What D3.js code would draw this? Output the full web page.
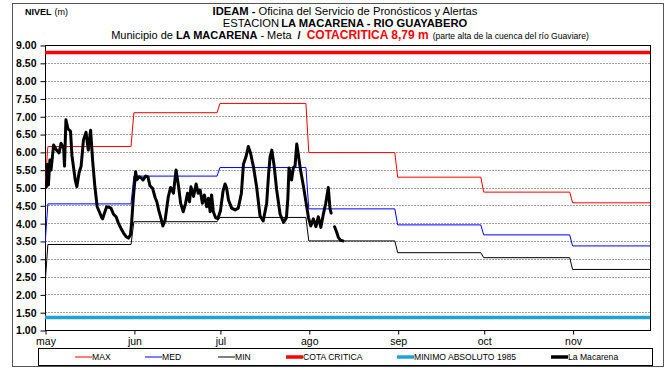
<!DOCTYPE html>
<html>
<head>
<meta charset="utf-8">
<script src="https://cdn.jsdelivr.net/npm/d3@7"></script>
<style>
  body { margin: 0; background: #fff; }
  svg { display: block; font-family: "Liberation Sans", Arial, sans-serif; }
</style>
</head>
<body>
<svg id="chart" width="667" height="370"></svg>
<script>
// Month tick labels along the time axis
const monthLabels = ["may", "jun", "jul", "ago", "sep", "oct", "nov"];

// Level axis ticks (m)
const yTicks = [1.0, 1.5, 2.0, 2.5, 3.0, 3.5, 4.0, 4.5, 5.0, 5.5, 6.0, 6.5, 7.0, 7.5, 8.0, 8.5, 9.0];

// Monthly reference levels (m): previous month (abr) then may ... nov
const maxLevels = [5.02, 6.15, 7.10, 7.36, 5.98, 5.29, 4.87, 4.57];
const medLevels = [3.38, 4.54, 5.32, 5.56, 4.40, 3.95, 3.67, 3.36];
const minLevels = [2.25, 3.40, 4.04, 4.16, 3.50, 3.17, 3.03, 2.70];

// Fixed reference levels (m)
const cotaCritica = 8.79;
const minimoAbsoluto = 1.35;

// Observed levels at La Macarena: days elapsed since 1 May, and level (m); null = no reading
const obsDays = [
  0.2, 0.5, 0.9, 1.2, 1.7, 2.1, 3.0, 4.0, 4.9, 5.6, 6.5, 6.8, 7.3, 8.0, 8.9, 9.4, 9.9, 10.5, 11.1, 11.9,
  12.6, 13.4, 14.3, 15.1, 15.9, 16.6, 17.4, 18.2, 19.2, 19.8, 20.1, 20.6, 21.5, 22.1, 23.0, 23.9, 24.8, 25.6, 26.5, 27.4,
  28.3, 29.1, 29.8, 30.2, 30.8, 31.6, 32.1, 32.9, 33.7, 34.2, 35.1, 35.9, 36.6, 37.5, 38.4, 39.0, 39.7, 40.5, 41.1, 41.9,
  43.0, 43.8, 44.8, 45.7, 46.5, 47.3, 48.2, 49.0, 49.7, 50.4, 50.9, 51.8, 52.7, 53.4, 54.1, 54.9, 55.6, 56.4, 57.0, 57.6,
  58.1, 58.7, 59.5, 60.3, 61.2, 62.1, 62.8, 63.3, 64.0, 65.1, 66.3, 67.4, 68.5, 69.2, 70.1, 70.9, 71.7, 72.7, 73.8, 75.0,
  76.1, 77.3, 78.0, 78.5, 79.1, 79.9, 80.8, 82.0, 83.2, 84.2, 84.7, 85.1, 86.0, 86.6, 87.2, 87.8, 88.4, 89.0, 90.1, 91.0,
  91.9, 92.7, 93.6, 94.5, 95.3, 96.2, 97.1, 97.9, 98.8, 99.4, 99.8, 100.4, 101.0, 101.7, 102.3, 103.1, 103.9
];
const obsLevels = [
  5.00, 5.02, 5.65, 5.07, 5.77, 5.49, 6.19, 6.05, 5.97, 6.24, 6.10, 5.60, 6.90, 6.65, 6.58, 5.90, 5.60, 5.23, 5.02, 5.42,
  5.60, 6.33, 6.55, 6.05, 6.61, 5.77, 5.02, 4.46, 4.27, 4.15, 4.12, 4.25, 4.46, 4.45, 4.42, 4.25, 4.18, 4.00, 3.85, 3.72,
  3.62, 3.58, 3.67, 4.00, 4.70, 5.44, 5.22, 5.30, 5.26, 5.21, 5.32, 5.30, 5.05, 4.98, 4.72, 4.60, 4.35, 4.12, 3.92, 4.09,
  4.74, 5.00, 4.84, 5.49, 5.08, 4.56, 4.32, 4.55, 4.84, 4.60, 5.02, 4.75, 5.10, 4.84, 4.93, 4.56, 4.79, 4.46, 4.70, 4.32,
  4.79, 4.32, 4.15, 4.13, 4.35, 4.90, 5.10, 5.00, 4.65, 4.42, 4.37, 4.42, 4.84, 5.65, 5.86, 6.15, 5.96, 5.58, 5.02, 4.20,
  4.06, 4.55, 5.40, 5.86, 6.05, 5.62, 4.93, 4.25, 4.02, 4.15, 4.70, 5.55, 5.21, 5.55, 5.60, 6.22, 5.90, 5.55, 5.05, 4.60,
  4.15, 3.92, 4.12, 3.90, 4.18, 3.88, 4.26, 4.55, 5.00, 4.40, 4.28, null, 3.90, 3.75, 3.60, 3.52, 3.50
];

const legendItems = [
  { label: "MAX", color: "#ff0000", width: 1 },
  { label: "MED", color: "#0000ff", width: 1 },
  { label: "MIN", color: "#000000", width: 1 },
  { label: "COTA CRITICA", color: "#ff0000", width: 3.5 },
  { label: "MINIMO ABSOLUTO 1985", color: "#1ea3d4", width: 3.5 },
  { label: "La Macarena", color: "#000000", width: 3.5 }
];

const NARROW = "'Liberation Sans Narrow', 'Liberation Sans', Arial, sans-serif";
const DAY = 86400000;
const start = Date.UTC(2013, 4, 1);
const monthStarts = d3.range(7).map(i => new Date(Date.UTC(2013, 4 + i, 1)));
const end = new Date(Date.UTC(2013, 10, 28));

const svg = d3.select("#chart");
const plot = { left: 45, right: 650, top: 45, bottom: 330 };

const x = d3.scaleUtc().domain([new Date(start), end]).range([plot.left, plot.right]);
const y = d3.scaleLinear().domain([1, 9]).range([plot.bottom, plot.top]);

// Outer frame
svg.append("rect").attr("x", 12.5).attr("y", 3.5).attr("width", 651).attr("height", 363)
  .attr("fill", "none").attr("stroke", "#555").attr("stroke-width", 1);

// A heading row made of separately styled pieces, laid out side by side around a centre
function headingRow(cx, baseline, pieces) {
  const row = svg.append("g").style("font-family", NARROW);
  const nodes = pieces.map(p => row.append("text")
    .attr("y", baseline)
    .attr("font-size", p.size)
    .attr("font-weight", p.bold ? "bold" : "normal")
    .attr("fill", p.color || "#000")
    .attr("xml:space", "preserve")
    .text(p.text));
  const widths = nodes.map(n => n.node().getComputedTextLength());
  const gaps = pieces.map(p => p.gap || 0);
  const total = d3.sum(widths) + d3.sum(gaps);
  let cursor = cx - total / 2;
  nodes.forEach((n, i) => {
    n.attr("x", cursor);
    cursor += widths[i] + gaps[i];
  });
}

headingRow(345, 15, [
  { text: "IDEAM -", size: 11.2, bold: true, gap: 3 },
  { text: "Oficina del Servicio de Pronósticos y Alertas", size: 11.2 }
]);
headingRow(345, 27, [
  { text: "ESTACION", size: 11.2, gap: 2 },
  { text: "LA MACARENA - RIO GUAYABERO", size: 11.2, bold: true }
]);
headingRow(350, 39, [
  { text: "Municipio de", size: 11, gap: 3 },
  { text: "LA MACARENA", size: 11, bold: true, gap: 3 },
  { text: "- Meta", size: 11, gap: 6 },
  { text: "/", size: 11, bold: true, gap: 6 },
  { text: "COTACRITICA 8,79 m", size: 12, bold: true, color: "#ff0000", gap: 4 },
  { text: "(parte alta de la cuenca del río Guaviare)", size: 8.6 }
]);

const nivelBold = svg.append("text").attr("x", 25).attr("y", 15).attr("font-size", 9)
  .attr("font-weight", "bold").text("NIVEL");
const nivelW = nivelBold.node().getComputedTextLength();
svg.append("text").attr("x", 25 + nivelW + 3).attr("y", 15).attr("font-size", 9).text("(m)");

// Dotted horizontal gridlines
svg.append("g").selectAll("line").data(yTicks.filter(v => v > 1 && v < 9)).join("line")
  .attr("x1", plot.left).attr("x2", plot.right)
  .attr("y1", d => Math.round(y(d)) + 0.5).attr("y2", d => Math.round(y(d)) + 0.5)
  .attr("stroke", "#a0a0a0").attr("stroke-width", 1).attr("stroke-dasharray", "2,1");

// Plot border
svg.append("rect").attr("x", plot.left + 0.5).attr("y", plot.top + 0.5)
  .attr("width", plot.right - plot.left).attr("height", plot.bottom - plot.top)
  .attr("fill", "none").attr("stroke", "#000").attr("stroke-width", 1);

// Axes
const yAxis = svg.append("g").attr("transform", `translate(${plot.left + 0.5},0.5)`)
  .call(d3.axisLeft(y).tickValues(yTicks).tickFormat(d3.format(".2f")).tickSize(5).tickPadding(4));
yAxis.select(".domain").remove();
yAxis.selectAll("text").attr("font-size", 10.5).attr("font-weight", "bold")
  .attr("font-family", "'Liberation Sans', Arial, sans-serif").attr("fill", "#000");

const xAxis = svg.append("g").attr("transform", `translate(0.5,${plot.bottom + 0.5})`)
  .call(d3.axisBottom(x).tickValues(monthStarts).tickFormat((d, i) => monthLabels[i]).tickSize(4).tickPadding(3));
xAxis.select(".domain").remove();
xAxis.selectAll("text").attr("font-size", 10.5)
  .attr("font-family", "'Liberation Sans', Arial, sans-serif").attr("fill", "#000");

// Clip to plot area
svg.append("clipPath").attr("id", "clip").append("rect")
  .attr("x", plot.left).attr("y", plot.top).attr("width", plot.right - plot.left).attr("height", plot.bottom - plot.top);
const g = svg.append("g").attr("clip-path", "url(#clip)");

// Monthly step series: previous-month value on 1 May, then each month held to its last day
function stepPoints(levels) {
  const pts = [[new Date(start), levels[0]]];
  for (let i = 1; i < levels.length; i++) {
    const m0 = new Date(Date.UTC(2013, 3 + i, i === 1 ? 2 : 1));
    const m1 = new Date(Date.UTC(2013, 4 + i, 0));
    pts.push([m0, levels[i]], [m1, levels[i]]);
  }
  pts.push([new Date(Date.UTC(2013, 11, 1)), levels[levels.length - 1]]);
  return pts;
}
const line = d3.line().x(d => x(d[0])).y(d => y(d[1]));

g.append("path").datum(stepPoints(maxLevels)).attr("d", line)
  .attr("fill", "none").attr("stroke", "#ff0000").attr("stroke-width", 1);
g.append("path").datum(stepPoints(medLevels)).attr("d", line)
  .attr("fill", "none").attr("stroke", "#0000ff").attr("stroke-width", 1);
g.append("path").datum(stepPoints(minLevels)).attr("d", line)
  .attr("fill", "none").attr("stroke", "#000000").attr("stroke-width", 1);

// Fixed references
g.append("line").attr("x1", plot.left).attr("x2", plot.right)
  .attr("y1", y(cotaCritica)).attr("y2", y(cotaCritica))
  .attr("stroke", "#ff0000").attr("stroke-width", 3.5);
g.append("line").attr("x1", plot.left).attr("x2", plot.right)
  .attr("y1", y(minimoAbsoluto)).attr("y2", y(minimoAbsoluto))
  .attr("stroke", "#1ea3d4").attr("stroke-width", 3.5);

// Observed levels
const obs = obsDays.map((d, i) => [new Date(start + d * DAY), obsLevels[i]]);
g.append("path").datum(obs)
  .attr("d", d3.line().defined(d => d[1] !== null).x(d => x(d[0])).y(d => y(d[1])))
  .attr("fill", "none").attr("stroke", "#000").attr("stroke-width", 3)
  .attr("stroke-linejoin", "round").attr("stroke-linecap", "round");

// Legend
const legend = svg.append("g");
legend.append("rect").attr("x", 38.5).attr("y", 348.5).attr("width", 614).attr("height", 17)
  .attr("fill", "#fff").attr("stroke", "#000").attr("stroke-width", 1);
const legendX = [75, 145, 218, 286, 397, 551];
const li = legend.selectAll("g.item").data(legendItems).join("g").attr("class", "item")
  .attr("transform", (d, i) => `translate(${legendX[i]},357)`);
li.append("line").attr("x1", 0).attr("x2", 17).attr("y1", 0).attr("y2", 0)
  .attr("stroke", d => d.color).attr("stroke-width", d => d.width);
li.append("text").attr("x", 17).attr("y", 3).attr("font-size", 8.6)
  .style("font-family", NARROW)
  .text(d => d.label);
</script>
</body>
</html>
